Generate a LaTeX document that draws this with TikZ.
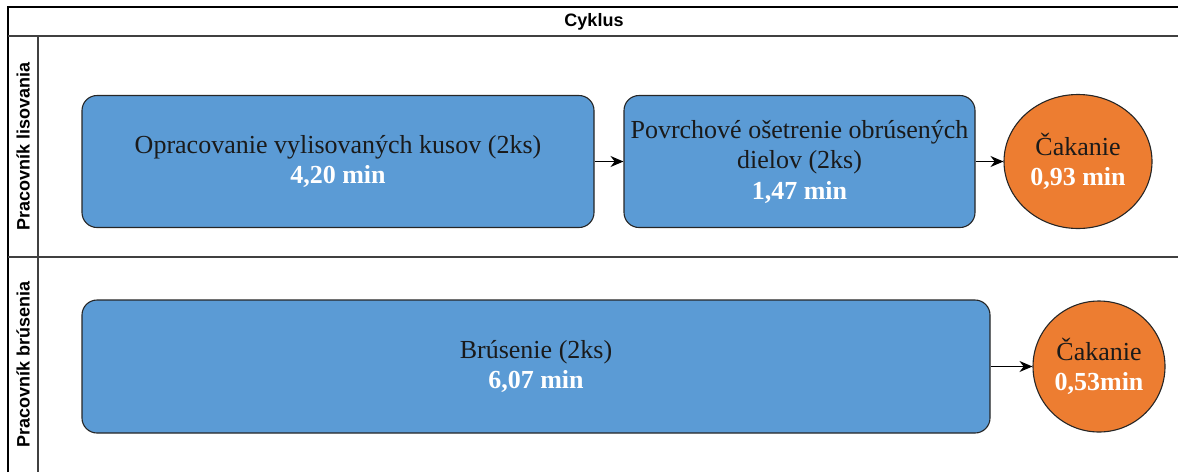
\documentclass[tikz,border=0pt]{standalone}
\usepackage{fontspec}
\setmainfont{Liberation Serif}
\setsansfont{Liberation Sans}
\usetikzlibrary{arrows.meta,shapes.geometric}
\definecolor{boxblue}{HTML}{5B9BD5}
\definecolor{waitorange}{HTML}{ED7D31}
\definecolor{inktext}{HTML}{1A1A1A}
\tikzset{
	lane/.style={line width=1.6, black!75},
	taskbox/.style={draw=black!85, line width=1.1, fill=boxblue, rounded corners=15,
		align=center, text=inktext, font=\fontsize{26}{30.5}\selectfont},
	waitnode/.style={draw=black!85, line width=1.1, fill=waitorange, ellipse, inner sep=0,
		align=center, text=inktext, font=\fontsize{26}{30.5}\selectfont},
	lanelabel/.style={rotate=90, font=\sffamily\bfseries\fontsize{18}{20}\selectfont},
	flow/.style={arrows=-{Stealth[length=13pt,width=11pt]}, line width=1.1}
}
\newcommand{\mins}[1]{\textcolor{white}{\textbf{#1}}}
\begin{document}
\begin{tikzpicture}[x=1pt,y=-1pt]
	\useasboundingbox (0,0) rectangle (1178,472);
	% pool frame
	\draw [lane, black] (8,472) -- (8,7) -- (1178,7);
	\draw [lane] (8,36) -- (1178,36);
	\draw [lane] (38,36) -- (38,472);
	\draw [lane] (8,257) -- (1178,257);
	\node (cyklus) [font=\sffamily\bfseries\fontsize{18}{20}\selectfont] at (594,21.5) {Cyklus};
	\node (lisovanie) [lanelabel] at (23,146.5) {Pracovník lisovania};
	\node (brusenie) [lanelabel] at (23,364.5) {Pracovník brúsenia};
	% lane 1
	\node (opracovanie) [taskbox, minimum width=512, minimum height=132] at (338,161.5)
		{Opracovanie vylisovaných kusov (2ks)\\ \mins{4,20 min}};
	\node (povrch) [taskbox, minimum width=351, minimum height=132] at (799.5,161.5)
		{Povrchové ošetrenie obrúsených\\ dielov (2ks)\\ \mins{1,47 min}};
	\node (cakanie1) [waitnode, minimum width=148, minimum height=134] at (1078,161.5)
		{Čakanie\\ \mins{0,93 min}};
	% lane 2
	\node (brus) [taskbox, minimum width=908, minimum height=133] at (536,366.5)
		{Brúsenie (2ks)\\ \mins{6,07 min}};
	\node (cakanie2) [waitnode, minimum width=132, minimum height=131] at (1099,366.5)
		{Čakanie\\ \mins{0,53min}};
	\draw [flow] (opracovanie) -- (povrch);
	\draw [flow] (povrch) -- (cakanie1);
	\draw [flow] (brus) -- (cakanie2);
\end{tikzpicture}
\end{document}
